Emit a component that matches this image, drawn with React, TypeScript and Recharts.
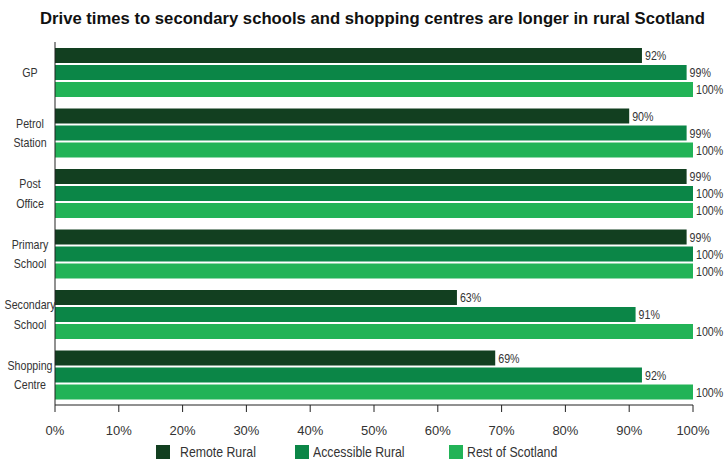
import React from "react";
import { BarChart, Bar, XAxis, YAxis, Legend, LabelList } from "recharts";

const categories = ["GP", "Petrol Station", "Post Office", "Primary School", "Secondary School", "Shopping Centre"];
const remoteRural = [92, 90, 99, 99, 63, 69];
const accessibleRural = [99, 99, 100, 100, 91, 92];
const restOfScotland = [100, 100, 100, 100, 100, 100];
const xTicks = [0, 10, 20, 30, 40, 50, 60, 70, 80, 90, 100];
const seriesNames = ["Remote Rural", "Accessible Rural", "Rest of Scotland"];
const title = "Drive times to secondary schools and shopping centres are longer in rural Scotland";

const COLORS = ["#123f20", "#0b8647", "#22b357"];
const FONT = "'Liberation Sans', Arial, sans-serif";
const SQUEEZE = 0.82;

const data = categories.map((c, i) => ({
  name: c,
  remote: remoteRural[i],
  accessible: accessibleRural[i],
  rest: restOfScotland[i],
}));

const YTick = (props: any) => {
  const { y, payload } = props;
  const lines = String(payload.value).split(" ");
  const spacing = 19.5;
  const start = -((lines.length - 1) * spacing) / 2;
  return (
    <g>
      {lines.map((l: string, i: number) => (
        <text
          key={i}
          transform={`translate(30, ${y + start + i * spacing}) scale(${SQUEEZE}, 1)`}
          x={0}
          y={0}
          dy="0.35em"
          textAnchor="middle"
          fontFamily={FONT}
          fontSize={13}
          fill="#333"
        >
          {l}
        </text>
      ))}
    </g>
  );
};

const ValueLabel = (props: any) => {
  const { x, y, width, height, value } = props;
  const tx = Number(x) + Number(width) + 3;
  const ty = Number(y) + Number(height) / 2;
  return (
    <text
      transform={`translate(${tx}, ${ty}) scale(${SQUEEZE}, 1)`}
      x={0}
      y={0}
      dy="0.35em"
      textAnchor="start"
      fontFamily={FONT}
      fontSize={13}
      fill="#333"
    >
      {`${value}%`}
    </text>
  );
};

const LegendContent = () => (
  <div style={{ position: "relative", height: 24, width: 725 }}>
    {seriesNames.map((n, i) => {
      const lefts = [156, 295, 449];
      return (
        <div
          key={n}
          style={{
            position: "absolute",
            left: lefts[i],
            top: 9,
            height: 15,
            display: "flex",
            alignItems: "center",
            whiteSpace: "nowrap",
            lineHeight: "15px",
          }}
        >
          <span style={{ display: "inline-block", width: 14, height: 14, background: COLORS[i], marginRight: i === 0 ? 10 : 4 }} />
          <span
            style={{
              display: "inline-block",
              fontFamily: FONT,
              fontSize: 15,
              lineHeight: "15px",
              color: "#333",
              transform: `scaleX(${SQUEEZE})`,
              transformOrigin: "left center",
            }}
          >
            {n}
          </span>
        </div>
      );
    })}
  </div>
);

export default function App() {
  return (
    <div style={{ position: "absolute", left: 0, top: 0, width: 725, height: 459, background: "#fff", overflow: "hidden" }}>
      <svg width={725} height={40} style={{ position: "absolute", left: 0, top: 0 }}>
        <text
          x={40}
          y={24}
          fontFamily={FONT}
          fontWeight="bold"
          fontSize={17}
          fill="#111"
          textLength={665}
          lengthAdjust="spacingAndGlyphs"
        >
          {title}
        </text>
      </svg>
      <BarChart
        width={725}
        height={459}
        data={data}
        layout="vertical"
        margin={{ top: 42, right: 32, left: 0, bottom: 0 }}
        barSize={15}
        barGap={2}
      >
        <XAxis
          type="number"
          domain={[0, 100]}
          ticks={xTicks}
          tickFormatter={(v: number) => `${v}%`}
          height={30}
          tickSize={7}
          tickMargin={14}
          axisLine={{ stroke: "#222" }}
          tickLine={{ stroke: "#222" }}
          tick={{ fontFamily: FONT, fontSize: 13, fill: "#333" }}
          interval={0}
        />
        <YAxis
          type="category"
          dataKey="name"
          width={55}
          tick={<YTick />}
          tickLine={false}
          axisLine={{ stroke: "#222" }}
          interval={0}
        />
        <Legend verticalAlign="bottom" height={24} content={<LegendContent />} />
        <Bar dataKey="remote" name={seriesNames[0]} fill={COLORS[0]} isAnimationActive={false}>
          <LabelList dataKey="remote" content={<ValueLabel />} />
        </Bar>
        <Bar dataKey="accessible" name={seriesNames[1]} fill={COLORS[1]} isAnimationActive={false}>
          <LabelList dataKey="accessible" content={<ValueLabel />} />
        </Bar>
        <Bar dataKey="rest" name={seriesNames[2]} fill={COLORS[2]} isAnimationActive={false}>
          <LabelList dataKey="rest" content={<ValueLabel />} />
        </Bar>
      </BarChart>
    </div>
  );
}
